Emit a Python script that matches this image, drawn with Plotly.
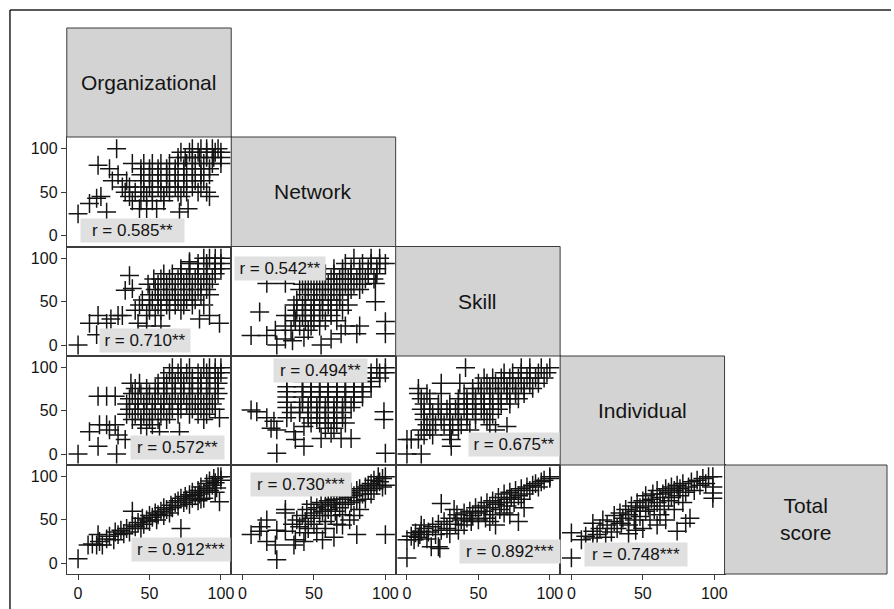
import plotly.graph_objects as go

# ---------------- data ----------------
variables = ["Organizational", "Network", "Skill", "Individual", "Total<br>score"]
tick_values = [0, 50, 100]

# (x, y) pairs for each lower-triangle panel
org_vs_network = [
    (27, 100), (80, 100), (86, 100), (90, 100), (94, 100), (98, 100),
    (72, 96), (78, 96), (84, 96), (90, 96), (96, 96), (100, 96),
    (70, 90), (75, 90), (80, 90), (85, 90), (90, 90), (95, 90), (100, 90),
    (38, 83), (46, 83), (52, 83), (58, 83), (64, 83), (70, 83), (76, 83), (82, 83), (88, 83), (94, 83), (100, 83),
    (14, 81),
    (22, 77), (44, 77), (50, 77), (56, 77), (62, 77), (68, 77), (74, 77), (80, 77), (86, 77), (92, 77),
    (28, 70), (44, 70), (50, 70), (56, 70), (62, 70), (68, 70), (74, 70), (80, 70), (86, 70), (92, 70),
    (24, 63), (34, 63), (46, 63), (52, 63), (58, 63), (64, 63), (70, 63), (76, 63), (82, 63), (88, 63),
    (31, 56), (36, 56), (44, 56), (50, 56), (56, 56), (62, 56), (68, 56), (74, 56), (80, 56), (86, 56),
    (33, 50), (40, 50), (46, 50), (52, 50), (58, 50), (64, 50), (70, 50), (76, 50), (84, 50), (90, 50),
    (16, 45), (36, 45), (48, 45), (60, 45), (72, 45), (92, 45), (13, 43),
    (8, 37), (38, 40), (44, 40), (52, 40), (60, 40),
    (43, 31), (48, 31), (55, 31), (77, 31),
    (20, 27), (71, 27), (0, 25),
]

org_vs_skill = [
    (0, 0), (13, 12), (8, 25), (20, 25), (42, 25), (99, 25), (48, 22), (58, 22), (23, 30), (85, 30),
    (14, 34), (28, 34), (31, 34), (48, 34), (54, 34), (92, 34),
    (40, 40), (50, 40), (58, 40), (64, 40), (72, 40),
    (43, 46), (50, 46), (56, 46), (62, 46), (68, 46), (74, 46), (80, 46), (88, 46),
    (45, 52), (52, 52), (58, 52), (64, 52), (70, 52), (76, 52), (82, 52),
    (50, 58), (56, 58), (62, 58), (68, 58), (74, 58), (80, 58), (86, 58), (92, 58),
    (33, 63), (38, 65), (54, 64), (60, 64), (66, 64), (72, 64), (78, 64), (84, 64), (90, 64),
    (49, 70), (56, 70), (62, 70), (68, 70), (74, 70), (80, 70), (86, 70), (92, 70),
    (53, 76), (58, 76), (64, 76), (70, 76), (76, 76), (82, 76), (88, 76), (94, 76),
    (36, 80), (60, 82), (66, 82), (72, 82), (78, 82), (84, 82), (90, 82), (96, 82),
    (72, 88), (78, 88), (84, 88), (90, 88), (96, 88), (100, 88),
    (78, 94), (84, 94), (90, 94), (96, 94), (100, 94),
    (88, 100), (92, 100), (96, 100), (100, 100), (78, 96),
]

org_vs_individual = [
    (0, 0), (27, 0), (14, 9), (33, 17), (28, 22), (8, 26), (22, 28), (48, 30), (57, 26), (71, 26),
    (15, 34), (20, 34), (26, 34), (44, 34), (52, 34),
    (38, 40), (44, 40), (50, 40), (56, 40), (62, 40), (88, 40), (99, 42),
    (34, 46), (40, 46), (46, 46), (52, 46), (58, 46), (64, 46), (70, 46), (78, 46), (84, 46), (90, 46),
    (36, 52), (42, 52), (48, 52), (54, 52), (60, 52), (66, 52), (72, 52), (80, 52), (86, 52), (92, 52), (96, 52),
    (34, 58), (40, 58), (46, 58), (52, 58), (58, 58), (64, 58), (70, 58), (76, 58), (82, 58), (88, 58), (94, 58),
    (36, 64), (42, 64), (48, 64), (54, 64), (60, 64), (66, 64), (72, 64), (78, 64), (84, 64), (90, 64), (96, 64),
    (14, 67), (20, 67), (26, 67),
    (38, 70), (44, 70), (50, 70), (56, 70), (62, 70), (68, 70), (74, 70), (80, 70), (86, 70), (92, 70), (98, 70),
    (40, 76), (48, 76), (54, 76), (60, 76), (66, 76), (72, 76), (78, 76), (84, 76), (90, 76), (96, 76),
    (37, 82), (43, 82), (56, 82), (62, 82), (68, 82), (74, 82), (80, 82), (86, 82), (92, 82), (98, 82),
    (60, 88), (66, 88), (72, 88), (80, 88), (86, 88), (92, 88), (98, 88),
    (64, 94), (70, 94), (76, 94), (84, 94), (90, 94), (96, 94), (100, 94),
    (66, 100), (72, 100), (78, 100), (88, 100), (92, 100), (96, 100), (100, 100),
]

org_vs_total = [
    (0, 5), (7, 21), (10, 22), (13, 21), (15, 25), (14, 33), (17, 21), (20, 28), (22, 31), (25, 27),
    (26, 36), (28, 33), (30, 38), (32, 34), (34, 40), (36, 36), (38, 44), (38, 60), (40, 42), (42, 47),
    (44, 40), (45, 52), (46, 45), (48, 50), (50, 55), (50, 48), (52, 53), (54, 58), (55, 50), (56, 56),
    (58, 60), (60, 55), (60, 64), (62, 62), (64, 58), (65, 67), (66, 64), (68, 70), (70, 66), (70, 72),
    (72, 40), (72, 75), (74, 70), (75, 77), (76, 73), (78, 68), (78, 79), (80, 75), (80, 82), (82, 78),
    (84, 72), (84, 84), (85, 80), (86, 88), (88, 82), (88, 75), (90, 86), (90, 92), (92, 84), (92, 95),
    (94, 90), (95, 98), (96, 93), (97, 87), (98, 100), (99, 71), (100, 96), (100, 100), (96, 82), (86, 74),
]

network_vs_skill = [
    (78, 100), (90, 100), (96, 100),
    (72, 94), (84, 94), (90, 94), (96, 94), (100, 94),
    (64, 88), (70, 88), (76, 88), (82, 88), (88, 88), (94, 88),
    (58, 82), (64, 82), (70, 82), (76, 82), (82, 82), (88, 82), (94, 82),
    (44, 76), (50, 76), (56, 76), (62, 76), (68, 76), (74, 76), (80, 76), (86, 76), (92, 76),
    (17, 71), (30, 71), (93, 71),
    (42, 70), (48, 70), (54, 70), (60, 70), (66, 70), (72, 70), (78, 70), (84, 70),
    (40, 64), (46, 64), (52, 64), (58, 64), (64, 64), (70, 64), (76, 64), (82, 64),
    (44, 58), (50, 58), (56, 58), (62, 58), (68, 58), (74, 58),
    (38, 52), (44, 52), (50, 52), (56, 52), (62, 52), (68, 52), (93, 50),
    (36, 46), (42, 46), (48, 46), (54, 46), (60, 46), (66, 46), (74, 46),
    (38, 40), (44, 40), (50, 40), (56, 40), (62, 40), (70, 40), (12, 38),
    (30, 34), (36, 34), (42, 34), (48, 34), (54, 34), (62, 34),
    (37, 28), (44, 28), (50, 28), (58, 28), (66, 28), (100, 27),
    (30, 22), (40, 22), (48, 22), (54, 22), (72, 22), (82, 22),
    (23, 17), (34, 17), (46, 17),
    (6, 11), (17, 11), (69, 13), (80, 13), (100, 13),
    (30, 7), (62, 7), (35, 5), (43, 9), (24, 0), (55, 0),
]

network_vs_individual = [
    (94, 100), (100, 100),
    (90, 94), (96, 94), (100, 94),
    (84, 88), (90, 88), (96, 88),
    (42, 84), (48, 84), (54, 84), (60, 84), (66, 84), (72, 84), (78, 84), (84, 84), (90, 84),
    (31, 78), (42, 78), (48, 78), (54, 78), (60, 78), (66, 78), (72, 78), (78, 78), (84, 78), (90, 78),
    (31, 72), (42, 72), (48, 72), (54, 72), (60, 72), (66, 72), (72, 72), (78, 72), (84, 72),
    (31, 66), (42, 66), (48, 66), (54, 66), (60, 66), (66, 66), (72, 66), (78, 66), (84, 66),
    (31, 60), (42, 60), (48, 60), (54, 60), (60, 60), (66, 60), (72, 60), (78, 60),
    (31, 54), (40, 54), (46, 54), (52, 54), (58, 54), (64, 54), (70, 54), (76, 54),
    (6, 51), (10, 49), (99, 49),
    (34, 48), (40, 48), (46, 48), (52, 48), (58, 48), (64, 48), (70, 48),
    (17, 42), (31, 42), (46, 42), (52, 42), (58, 42), (64, 42), (70, 42), (99, 40),
    (22, 38), (48, 36), (54, 36), (60, 36), (66, 36), (72, 36),
    (20, 30), (24, 28), (43, 32), (58, 30), (64, 30), (36, 26), (62, 24),
    (37, 17), (55, 18), (69, 18), (76, 18), (43, 9), (24, 1), (100, 1),
]

network_vs_total = [
    (6, 33), (12, 37), (13, 42), (17, 50), (17, 25), (23, 21), (24, 4), (24, 38), (30, 37), (30, 62),
    (30, 58), (36, 21), (37, 27), (43, 25), (56, 27), (80, 33), (100, 33),
    (35, 45), (38, 50), (40, 42), (42, 55), (44, 48), (45, 62), (46, 40), (48, 52), (48, 68), (50, 58),
    (50, 45), (52, 64), (52, 35), (54, 55), (55, 70), (56, 60), (58, 48), (58, 66), (60, 62), (60, 72),
    (62, 55), (62, 68), (64, 74), (65, 60), (66, 45), (66, 70), (68, 78), (68, 64), (70, 74), (70, 56),
    (72, 80), (72, 68), (74, 76), (75, 50), (76, 82), (76, 70), (78, 78), (80, 84), (80, 72), (82, 62),
    (82, 86), (84, 80), (86, 88), (86, 74), (88, 84), (88, 90), (90, 92), (90, 80), (92, 96), (92, 86),
    (94, 90), (95, 100), (96, 94), (98, 88), (98, 98), (100, 100), (100, 90), (44, 35), (58, 40),
    (64, 30), (70, 44), (78, 55),
]

skill_vs_individual = [
    (0, 0), (10, 0), (31, 9),
    (0, 17), (3, 17), (8, 17), (31, 17),
    (12, 22), (18, 22), (30, 22),
    (10, 28), (16, 28), (30, 28), (36, 28), (44, 28), (62, 28),
    (14, 34), (20, 34), (26, 34), (32, 34), (38, 34), (58, 34), (70, 32),
    (12, 40), (18, 40), (24, 40), (30, 40), (36, 40), (42, 40), (48, 40), (56, 40),
    (12, 46), (18, 46), (24, 46), (30, 46), (36, 46), (42, 46), (48, 46), (54, 46), (60, 46),
    (10, 52), (16, 52), (22, 52), (28, 52), (34, 52), (40, 52), (46, 52), (52, 52), (58, 52), (64, 52),
    (12, 58), (22, 58), (30, 58), (36, 58), (42, 58), (48, 58), (54, 58), (60, 58), (66, 58), (72, 58),
    (10, 64), (16, 64), (36, 64), (42, 64), (48, 64), (54, 64), (60, 64), (66, 64), (72, 64), (78, 64),
    (8, 70), (14, 70), (24, 70), (40, 70), (46, 70), (52, 70), (58, 70), (64, 70), (70, 70), (76, 70), (82, 70),
    (8, 76), (46, 76), (52, 76), (58, 76), (64, 76), (70, 76), (76, 76), (82, 76), (88, 76),
    (24, 82), (37, 82), (50, 82), (56, 82), (62, 82), (68, 82), (74, 82), (80, 82), (86, 82), (92, 82),
    (54, 88), (60, 88), (66, 88), (72, 88), (78, 88), (84, 88), (90, 88), (96, 88),
    (68, 94), (74, 94), (80, 94), (86, 94), (92, 94), (98, 94),
    (41, 100), (80, 100), (86, 100), (94, 100), (100, 100),
]

skill_vs_total = [
    (0, 6), (0, 27), (5, 27), (3, 31), (6, 35), (8, 30), (9, 33), (10, 37), (10, 44), (12, 40),
    (14, 28), (15, 36), (17, 19), (18, 42), (20, 33), (22, 19), (22, 45), (23, 17), (24, 69), (24, 38),
    (26, 48), (28, 40), (30, 52), (30, 34), (33, 62), (34, 45), (35, 56), (36, 38), (38, 50), (40, 58),
    (40, 44), (42, 52), (44, 60), (45, 48), (46, 55), (48, 64), (50, 58), (50, 50), (52, 66), (54, 60),
    (55, 52), (56, 70), (58, 64), (60, 72), (60, 56), (62, 44), (62, 68), (64, 76), (65, 62), (66, 70),
    (68, 80), (68, 58), (70, 74), (70, 66), (72, 82), (73, 76), (75, 70), (76, 84), (78, 48), (78, 78),
    (80, 86), (80, 74), (82, 80), (84, 88), (86, 84), (88, 90), (90, 92), (92, 88), (94, 94), (96, 96),
    (100, 98), (100, 100), (58, 48), (72, 56), (82, 64),
]

individual_vs_total = [
    (0, 6), (0, 35), (7, 27), (10, 31), (15, 46), (15, 37), (15, 29), (18, 33), (20, 40), (22, 50),
    (24, 30), (25, 44), (28, 36), (30, 55), (30, 48), (32, 40), (34, 58), (35, 46), (36, 52), (38, 62),
    (40, 44), (40, 56), (42, 66), (44, 50), (45, 60), (46, 70), (48, 54), (48, 64), (50, 72), (50, 40),
    (52, 60), (52, 78), (54, 66), (55, 50), (56, 74), (57, 80), (58, 62), (60, 70), (60, 84), (62, 76),
    (62, 56), (64, 80), (65, 66), (66, 86), (68, 72), (68, 82), (70, 88), (70, 76), (72, 62), (72, 84),
    (74, 37), (74, 90), (75, 78), (76, 86), (78, 70), (78, 92), (80, 46), (80, 82), (82, 88), (83, 52),
    (84, 94), (86, 84), (88, 96), (90, 90), (92, 98), (94, 92), (96, 100), (99, 100), (99, 88), (99, 81),
    (99, 75), (40, 34), (45, 38), (60, 44), (66, 50),
]

correlation_labels = ["r = 0.585**", "r = 0.710**", "r = 0.572**", "r = 0.912***",
                      "r = 0.542**", "r = 0.494**", "r = 0.730***",
                      "r = 0.675**", "r = 0.892***", "r = 0.748***"]

# ---------------- layout / styling ----------------
W, H = 894, 609
COL_EDGES = [67, 232, 397, 562, 727, 890]
ROW_EDGES = [28, 137, 246.5, 356, 465, 574]
XR = [-7.9, 107.2]
YR = [-12.6, 113.5]
FONT = "Liberation Sans, Arial, Helvetica, sans-serif"
INK = "#141414"
FRAME = "#3c3c3c"

# (row, col, data, label position in data units, label box width px)
panels = [
    (1, 0, org_vs_network, (38, 6), 103),
    (2, 0, org_vs_skill, (47, 5.5), 90),
    (3, 0, org_vs_individual, (69.5, 7.3), 93),
    (4, 0, org_vs_total, (72, 16), 98),
    (2, 1, network_vs_skill, (26, 88), 90),
    (3, 1, network_vs_individual, (54.5, 97), 93),
    (4, 1, network_vs_total, (41, 91.5), 100),
    (3, 2, skill_vs_individual, (75, 10.7), 90),
    (4, 2, skill_vs_total, (72, 13), 100),
    (4, 3, individual_vs_total, (45, 9.6), 102),
]

fig = go.Figure()
layout = dict(
    width=W, height=H, autosize=False,
    margin=dict(l=0, r=0, t=0, b=0, pad=0),
    paper_bgcolor="white", plot_bgcolor="white",
    showlegend=False,
    font=dict(family=FONT, color=INK),
)
annotations = []
shapes = []

for i, (r, c, pts, (lx, ly), bw) in enumerate(panels, start=1):
    xn = "x" if i == 1 else f"x{i}"
    yn = "y" if i == 1 else f"y{i}"
    xkey = "xaxis" if i == 1 else f"xaxis{i}"
    ykey = "yaxis" if i == 1 else f"yaxis{i}"
    fig.add_trace(go.Scatter(
        x=[p[0] for p in pts], y=[p[1] for p in pts],
        mode="markers", xaxis=xn, yaxis=yn, hoverinfo="skip",
        marker=dict(symbol="cross-thin", size=13.5, color=INK,
                    line=dict(width=1.5, color=INK)),
    ))
    bottom = (r == 4)
    left = (c == 0)
    layout[xkey] = dict(
        domain=[COL_EDGES[c] / W, COL_EDGES[c + 1] / W], anchor=yn,
        range=XR, showgrid=False, zeroline=False,
        showline=True, mirror=True, linecolor=FRAME, linewidth=1,
        tickvals=tick_values, ticks="outside" if bottom else "",
        ticklen=5, tickcolor=FRAME, showticklabels=bottom,
        tickfont=dict(size=16, color=INK, family=FONT),
    )
    layout[ykey] = dict(
        domain=[1 - ROW_EDGES[r + 1] / H, 1 - ROW_EDGES[r] / H], anchor=xn,
        range=YR, showgrid=False, zeroline=False,
        showline=True, mirror=True, linecolor=FRAME, linewidth=1,
        tickvals=tick_values, ticks="outside" if left else "",
        ticklen=5, tickcolor=FRAME, showticklabels=left,
        tickfont=dict(size=16, color=INK, family=FONT),
    )
    annotations.append(dict(
        x=lx, y=ly, xref=xn, yref=yn, text=correlation_labels[i - 1],
        xanchor="center", yanchor="middle", width=bw - 4, height=19,
        showarrow=False, bgcolor="#e0e0e0", borderpad=2,
        font=dict(size=17, color=INK, family=FONT),
    ))

# diagonal label cells
for k, name in enumerate(variables):
    x0, x1 = COL_EDGES[k] / W, COL_EDGES[k + 1] / W
    y0, y1 = 1 - ROW_EDGES[k + 1] / H, 1 - ROW_EDGES[k] / H
    shapes.append(dict(type="rect", xref="paper", yref="paper",
                       x0=x0, x1=x1, y0=y0, y1=y1,
                       fillcolor="#d3d3d3", line=dict(color=FRAME, width=1)))
    annotations.append(dict(x=(x0 + x1) / 2, y=(y0 + y1) / 2, xref="paper", yref="paper",
                            xanchor="center", yanchor="middle",
                            text=name, showarrow=False,
                            font=dict(size=21, color=INK, family=FONT)))

# outer frame (left and top edges)
shapes.append(dict(type="line", xref="paper", yref="paper",
                   x0=10 / W, x1=10 / W, y0=0, y1=1 - 10 / H,
                   line=dict(color="#222", width=1.5)))
shapes.append(dict(type="line", xref="paper", yref="paper",
                   x0=10 / W, x1=1, y0=1 - 10 / H, y1=1 - 10 / H,
                   line=dict(color="#222", width=1.5)))

layout["annotations"] = annotations
layout["shapes"] = shapes
fig.update_layout(**layout)
fig.write_html("out.html",
               config={"displayModeBar": False, "staticPlot": True},
               post_script="document.body.style.margin='0';document.body.style.overflow='hidden';")
